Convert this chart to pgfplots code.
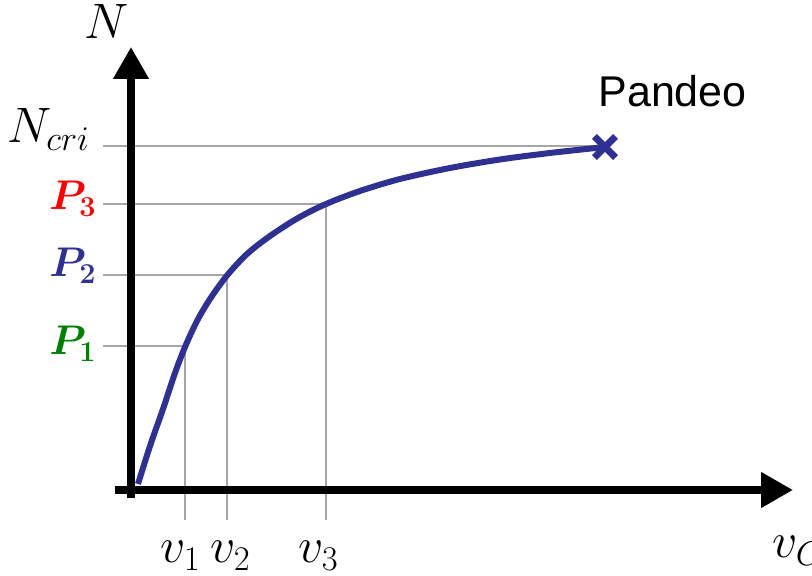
\documentclass[border=0pt]{standalone}
\usepackage{pgfplots}
\pgfplotsset{compat=1.18}
\usepackage{fontspec}
\usepackage{bm}
\usetikzlibrary{arrows.meta}
\newfontfamily\arial{Liberation Sans}
\definecolor{cblue}{RGB}{46,49,146}
\definecolor{cgreen}{RGB}{0,128,0}
\definecolor{cred}{RGB}{255,0,0}
\definecolor{cgray}{RGB}{166,166,166}
\begin{document}
\begin{tikzpicture}
\useasboundingbox (0,0) rectangle (406pt,288pt);
\clip (0,0) rectangle (406pt,288pt);
\begin{axis}[
  x=0.5pt, y=0.5pt,
  xmin=0, xmax=812, ymin=0, ymax=576,
  hide axis, clip=false,
]
% guide lines
\addplot[cgray, line width=1.2pt] coordinates {(103,430) (605,430)};
\addplot[cgray, line width=1.2pt] coordinates {(103,372) (326,372)};
\addplot[cgray, line width=1.2pt] coordinates {(103,301) (227,301)};
\addplot[cgray, line width=1.2pt] coordinates {(103,230) (185,230)};
\addplot[cgray, line width=1.2pt] coordinates {(185,230) (185,56)};
\addplot[cgray, line width=1.2pt] coordinates {(227,301) (227,56)};
\addplot[cgray, line width=1.2pt] coordinates {(326,372) (326,56)};
% axes
\addplot[black, line width=3.75pt, -{Triangle[length=16pt,width=17pt]}] coordinates {(131,78) (131,529)};
\addplot[black, line width=3.75pt, -{Triangle[length=16pt,width=17pt]}] coordinates {(115,86) (793,86)};
% curve
\addplot[cblue, line width=3pt, smooth] coordinates {
(138,92) (150,130) (163,167) (175,203) (185,229) (197,255) (210,277) (227,300.5)
(247,322) (270,340) (298,358) (326,372) (360,385) (400,397) (450,408)
(500,416.5) (550,423) (605,429)};
\addplot[cblue, only marks, mark=x, mark size=7.5pt, line width=3.4pt] coordinates {(605,429)};
% labels
\node[anchor=base west, inner sep=0, font=\fontsize{24}{28}\selectfont] at (axis cs:84,537) {$N$};
\node[anchor=base east, inner sep=0, font=\fontsize{23}{27}\selectfont] at (axis cs:90,433) {$N_{cri}$};
\node[anchor=base east, inner sep=0, text=cred, font=\fontsize{22}{26}\selectfont] at (axis cs:97,366) {$\bm{P_3}$};
\node[anchor=base east, inner sep=0, text=cblue, font=\fontsize{22}{26}\selectfont] at (axis cs:97,299) {$\bm{P_2}$};
\node[anchor=base east, inner sep=0, text=cgreen, font=\fontsize{22}{26}\selectfont] at (axis cs:97,221) {$\bm{P_1}$};
\node[anchor=base west, inner sep=0, font=\fontsize{24}{28}\selectfont] at (axis cs:160,13) {$v_1$};
\node[anchor=base west, inner sep=0, font=\fontsize{24}{28}\selectfont] at (axis cs:210,13) {$v_2$};
\node[anchor=base west, inner sep=0, font=\fontsize{24}{28}\selectfont] at (axis cs:298,13) {$v_3$};
\node[anchor=base west, inner sep=0, font=\fontsize{24}{28}\selectfont] at (axis cs:772,18) {$v_C$};
\node[anchor=base west, inner sep=0, font=\arial\fontsize{21.5}{24}\selectfont] at (axis cs:598,469) {Pandeo};
\end{axis}
\end{tikzpicture}
\end{document}
